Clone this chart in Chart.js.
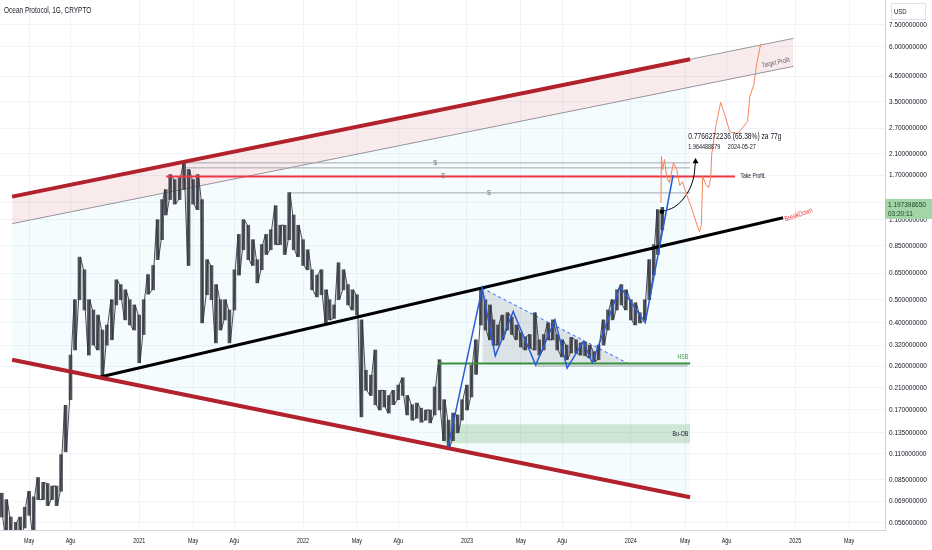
<!DOCTYPE html>
<html>
<head>
<meta charset="utf-8">
<script src="https://cdn.jsdelivr.net/npm/chart.js@4.4.1/dist/chart.umd.min.js"></script>
<style>
html, body { margin: 0; padding: 0; background: #fff; }
#wrap { width: 932px; height: 550px; }
</style>
</head>
<body>
<div id="wrap"><canvas id="chart"></canvas></div>
<script>
// candles, sampled every ~10 days (high / low range)
const dates = [
  '2020-03-01','2020-03-11','2020-03-21','2020-04-01','2020-04-11','2020-04-21',
  '2020-05-01','2020-05-11','2020-05-21','2020-06-01','2020-06-11','2020-06-21',
  '2020-07-01','2020-07-11','2020-07-21','2020-08-01','2020-08-11','2020-08-21',
  '2020-09-01','2020-09-11','2020-09-21','2020-10-01','2020-10-11','2020-10-21',
  '2020-11-01','2020-11-11','2020-11-21','2020-12-01','2020-12-11','2020-12-21',
  '2021-01-01','2021-01-11','2021-01-21','2021-02-01','2021-02-11','2021-02-21',
  '2021-03-01','2021-03-11','2021-03-21','2021-04-01','2021-04-11','2021-04-21',
  '2021-05-01','2021-05-11','2021-05-21','2021-06-01','2021-06-11','2021-06-21',
  '2021-07-01','2021-07-11','2021-07-21','2021-08-01','2021-08-11','2021-08-21',
  '2021-09-01','2021-09-11','2021-09-21','2021-10-01','2021-10-11','2021-10-21',
  '2021-11-01','2021-11-11','2021-11-21','2021-12-01','2021-12-11','2021-12-21',
  '2022-01-01','2022-01-11','2022-01-21','2022-02-01','2022-02-11','2022-02-21',
  '2022-03-01','2022-03-11','2022-03-21','2022-04-01','2022-04-11','2022-04-21',
  '2022-05-01','2022-05-11','2022-05-21','2022-06-01','2022-06-11','2022-06-21',
  '2022-07-01','2022-07-11','2022-07-21','2022-08-01','2022-08-11','2022-08-21',
  '2022-09-01','2022-09-11','2022-09-21','2022-10-01','2022-10-11','2022-10-21',
  '2022-11-01','2022-11-11','2022-11-21','2022-12-01','2022-12-11','2022-12-21',
  '2023-01-01','2023-01-11','2023-01-21','2023-02-01','2023-02-11','2023-02-21',
  '2023-03-01','2023-03-11','2023-03-21','2023-04-01','2023-04-11','2023-04-21',
  '2023-05-01','2023-05-11','2023-05-21','2023-06-01','2023-06-11','2023-06-21',
  '2023-07-01','2023-07-11','2023-07-21','2023-08-01','2023-08-11','2023-08-21',
  '2023-09-01','2023-09-11','2023-09-21','2023-10-01','2023-10-11','2023-10-21',
  '2023-11-01','2023-11-11','2023-11-21','2023-12-01','2023-12-11','2023-12-21',
  '2024-01-01','2024-01-11','2024-01-21','2024-02-01','2024-02-11','2024-02-21',
  '2024-03-01','2024-03-11'
];
const highs = [
  0.0746, 0.070, 0.059, 0.056, 0.059, 0.065,
  0.076, 0.072, 0.087, 0.083, 0.082, 0.080,
  0.080, 0.109, 0.177, 0.29, 0.50, 0.76,
  0.671, 0.50, 0.452, 0.43, 0.371, 0.39,
  0.50, 0.608, 0.58, 0.551, 0.50, 0.475,
  0.43, 0.50, 0.64, 0.70, 1.098, 1.338,
  1.476, 1.71, 1.63, 1.66, 1.925, 1.80,
  1.63, 1.71, 1.338, 0.741, 0.70, 0.58,
  0.50, 0.50, 0.452, 0.671, 0.95, 1.098,
  1.04, 0.902, 0.741, 0.86, 0.95, 0.995,
  1.26, 1.04, 1.04, 1.433, 1.15, 1.04,
  0.902, 0.817, 0.671, 0.637, 0.671, 0.551,
  0.50, 0.475, 0.719, 0.671, 0.58, 0.551,
  0.525, 0.41, 0.25, 0.238, 0.305, 0.205,
  0.205, 0.195, 0.205, 0.216, 0.232, 0.195,
  0.178, 0.181, 0.172, 0.169, 0.169, 0.212,
  0.277, 0.187, 0.153, 0.164, 0.161, 0.187,
  0.216, 0.263, 0.337, 0.56, 0.50, 0.475,
  0.41, 0.39, 0.43, 0.44, 0.422, 0.39,
  0.361, 0.347, 0.355, 0.44, 0.337, 0.355,
  0.398, 0.41, 0.355, 0.337, 0.32, 0.345,
  0.337, 0.327, 0.33, 0.32, 0.30, 0.32,
  0.41, 0.452, 0.50, 0.551, 0.58, 0.551,
  0.50, 0.485, 0.44, 0.50, 0.741, 0.86,
  1.212, 1.24
];
const lows = [
  0.059, 0.048, 0.045, 0.045, 0.049, 0.053,
  0.060, 0.048, 0.070, 0.070, 0.066, 0.070,
  0.066, 0.076, 0.112, 0.187, 0.305, 0.50,
  0.452, 0.29, 0.32, 0.305, 0.234, 0.32,
  0.337, 0.475, 0.50, 0.41, 0.39, 0.371,
  0.269, 0.355, 0.528, 0.551, 0.741, 0.902,
  1.15, 1.338, 1.28, 1.338, 1.476, 0.70,
  1.28, 1.212, 0.398, 0.525, 0.50, 0.327,
  0.371, 0.41, 0.327, 0.452, 0.637, 0.817,
  0.741, 0.70, 0.59, 0.671, 0.78, 0.817,
  0.86, 0.86, 0.78, 0.902, 0.817, 0.763,
  0.70, 0.671, 0.551, 0.514, 0.525, 0.398,
  0.41, 0.416, 0.50, 0.551, 0.475, 0.452,
  0.43, 0.158, 0.205, 0.195, 0.178, 0.169,
  0.174, 0.164, 0.178, 0.187, 0.195, 0.161,
  0.153, 0.156, 0.150, 0.153, 0.149, 0.161,
  0.169, 0.125, 0.117, 0.125, 0.135, 0.153,
  0.169, 0.192, 0.24, 0.39, 0.371, 0.337,
  0.32, 0.32, 0.337, 0.371, 0.355, 0.337,
  0.314, 0.305, 0.31, 0.305, 0.29, 0.305,
  0.337, 0.337, 0.305, 0.285, 0.277, 0.296,
  0.296, 0.29, 0.288, 0.282, 0.272, 0.277,
  0.32, 0.371, 0.41, 0.452, 0.475, 0.452,
  0.41, 0.39, 0.398, 0.41, 0.50, 0.637,
  0.78, 0.995
];

const yTicks = [7.5, 6.0, 4.5, 3.5, 2.7, 2.1, 1.7, 1.3, 1.1, 0.85, 0.65, 0.5, 0.4, 0.32, 0.26, 0.21, 0.17, 0.135, 0.11, 0.085, 0.069, 0.056];
const xTickDates = ['2020-05-01','2020-08-01','2021-01-01','2021-05-01','2021-08-01','2022-01-01','2022-05-01','2022-08-01',
  '2023-01-01','2023-05-01','2023-08-01','2024-01-01','2024-05-01','2024-08-01','2025-01-01','2025-05-01'];
const xTickLabels = ['May','Ağu','2021','May','Ağu','2022','May','Ağu','2023','May','Ağu','2024','May','Ağu','2025','May'];

const lastPrice = 1.197398650;
const lastTime = '03:20:11';

// drawings as [date, price]
const channelTop = [['2020-03-24', 1.378], ['2024-05-12', 5.318]];
const bandTop = [['2020-03-24', 1.378], ['2024-12-28', 6.53]];
const bandBottom = [['2020-03-24', 1.056], ['2024-12-28', 4.96]];
const cyanTop = [['2020-03-24', 1.056], ['2024-05-12', 4.045]];
const channelBottom = [['2020-03-24', 0.277], ['2024-05-12', 0.0717]];
const trendLine = [['2020-10-06', 0.234], ['2024-12-05', 1.12]];
const takeProfit = [['2021-03-02', 1.68], ['2024-08-20', 1.68]];
const rangeLine1 = [['2021-04-09', 1.92], ['2024-05-12', 1.92]];
const rangeLine2 = [['2021-04-16', 1.828], ['2024-05-12', 1.828]];
const rangeLine3 = [['2021-12-01', 1.429], ['2024-05-12', 1.429]];
const hsbLine = [['2022-10-29', 0.267], ['2024-05-12', 0.267]];
const baseLine = [['2023-06-03', 0.2606], ['2024-05-06', 0.2606]];
const buOBTop = [['2022-11-09', 0.147], ['2024-05-12', 0.147]];
const buOBBottom = 0.122;
const triangleTop = [['2023-02-04', 0.56], ['2023-12-26', 0.267]];
const triangleBase = 0.267;
const zigzag = [
  ['2022-11-20', 0.1176], ['2023-02-04', 0.56], ['2023-03-05', 0.288], ['2023-04-14', 0.445],
  ['2023-06-03', 0.263], ['2023-07-16', 0.41], ['2023-08-12', 0.255], ['2023-09-17', 0.331],
  ['2023-10-07', 0.269], ['2023-12-08', 0.569], ['2024-02-02', 0.399], ['2024-04-04', 1.70]
];
const projection = [
  ['2024-03-08', 1.298], ['2024-03-09', 2.043], ['2024-03-12', 1.797], ['2024-03-16', 1.984],
  ['2024-03-21', 1.661], ['2024-03-27', 1.581], ['2024-04-05', 1.926], ['2024-04-12', 1.797],
  ['2024-04-19', 1.535], ['2024-04-25', 1.597], ['2024-05-04', 1.405], ['2024-05-15', 1.236],
  ['2024-05-27', 1.046], ['2024-06-02', 0.976], ['2024-06-06', 1.046], ['2024-06-09', 1.678],
  ['2024-06-16', 1.550], ['2024-06-22', 1.505], ['2024-06-27', 1.661], ['2024-06-29', 2.083],
  ['2024-07-08', 2.746], ['2024-07-19', 3.478], ['2024-07-28', 3.090], ['2024-08-08', 2.614],
  ['2024-08-25', 2.55], ['2024-09-17', 2.884], ['2024-09-22', 3.689], ['2024-10-01', 4.153],
  ['2024-10-07', 5.057], ['2024-10-16', 6.159]
];
const arrowPath = [['2024-03-10', 1.188], ['2024-04-08', 1.248], ['2024-05-02', 1.391], ['2024-05-18', 1.613], ['2024-05-24', 1.945]];

const notes = [
  { at: ['2024-09-01', 1.68], text: 'Take Profit', color: '#131722', size: 7, align: 'left', sx: 0.72 },
  { at: ['2024-10-22', 1.68], text: '-', color: '#f23645', size: 8, align: 'left' },
  { at: ['2024-12-09', 1.10], text: 'BreakDown', color: '#f23645', size: 7.5, align: 'left', rot: -0.33, sx: 0.75 },
  { at: ['2024-10-19', 5.0], text: 'Target Profit', color: '#5d606b', size: 7, align: 'left', rot: -0.2, sx: 0.75 },
  { at: ['2024-05-08', 0.284], text: 'HSB', color: '#43a047', size: 7, align: 'right', sx: 0.75 },
  { at: ['2024-05-08', 0.133], text: 'Bu-OB', color: '#131722', size: 7, align: 'right', sx: 0.75 },
  { at: ['2022-10-22', 1.92], text: '$', color: '#787b86', size: 7, align: 'center' },
  { at: ['2022-11-09', 1.68], text: '$', color: '#787b86', size: 7, align: 'center' },
  { at: ['2023-02-19', 1.43], text: '$', color: '#787b86', size: 7, align: 'center' },
  { at: ['2024-05-08', 2.49], text: '0.7766272236 (65.38%) za 77g', color: '#131722', size: 9.5, align: 'left', sx: 0.7 },
  { at: ['2024-05-08', 2.25], text: '1.964488879', color: '#131722', size: 7, align: 'left', sx: 0.78 },
  { at: ['2024-08-04', 2.25], text: '2024-05-27', color: '#131722', size: 7, align: 'left', sx: 0.78 }
];

const FONT = "'Liberation Sans', Arial, sans-serif";
const day = s => Date.parse(s) / 864e5;
const pts = arr => arr.map(p => ({ x: day(p[0]), y: p[1] }));

function lineSet(arr, color, width, extra) {
  return Object.assign({
    type: 'line',
    data: pts(arr),
    borderColor: color,
    borderWidth: width,
    pointRadius: 0,
    fill: false,
    tension: 0
  }, extra || {});
}

// condensed canvas text
function drawText(ctx, s, x, y, o) {
  ctx.save();
  ctx.translate(x, y);
  if (o.rot) ctx.rotate(o.rot);
  ctx.scale(o.sx || 1, 1);
  ctx.font = (o.weight || 'normal') + ' ' + o.size + 'px ' + FONT;
  ctx.fillStyle = o.color || '#131722';
  ctx.textAlign = o.align || 'left';
  ctx.textBaseline = 'middle';
  ctx.fillText(s, 0, 0);
  ctx.restore();
}

// scribble through the high/low of each sample, gives the dense candle look
const scribble = [];
dates.forEach((d, i) => {
  const a = { x: day(d) - 2, y: i % 2 ? lows[i] : highs[i] };
  const b = { x: day(d) + 2, y: i % 2 ? highs[i] : lows[i] };
  scribble.push(a, b);
});

const datasets = [
  lineSet(bandTop, '#9598a1', 1, { fill: { target: 1 }, backgroundColor: 'rgba(190, 30, 45, 0.09)', order: 20 }),
  lineSet(bandBottom, '#9598a1', 1, { order: 20 }),
  lineSet(cyanTop, 'rgba(0,0,0,0)', 0, { fill: { target: 3 }, backgroundColor: 'rgba(0, 188, 212, 0.045)', order: 21 }),
  lineSet(channelBottom, '#b2222c', 4, { order: 2 }),
  lineSet(channelTop, '#b2222c', 4, { order: 2 }),
  lineSet(trendLine, '#000000', 3, { order: 2 }),
  lineSet(buOBTop, 'rgba(0,0,0,0)', 0, { fill: { value: buOBBottom }, backgroundColor: 'rgba(56, 142, 60, 0.2)', order: 15 }),
  lineSet(triangleTop, '#2962ff', 1, { borderDash: [3, 3], fill: { value: triangleBase }, backgroundColor: 'rgba(120, 123, 134, 0.2)', order: 14 }),
  lineSet(rangeLine1, '#a3a6af', 1, { order: 12 }),
  lineSet(rangeLine2, '#a3a6af', 1, { order: 12 }),
  lineSet(rangeLine3, '#a3a6af', 1, { order: 12 }),
  lineSet(baseLine, '#a3a6af', 1, { order: 12 }),
  lineSet(takeProfit, '#f23645', 2, { order: 3 }),
  lineSet(hsbLine, '#388e3c', 2, { order: 3 }),
  {
    type: 'bar',
    data: dates.map((d, i) => ({ x: day(d), y: [lows[i], highs[i]] })),
    backgroundColor: 'rgba(55, 58, 67, 0.85)',
    borderWidth: 0,
    barThickness: 3,
    order: 8
  },
  {
    type: 'line',
    data: scribble,
    borderColor: '#34373f',
    borderWidth: 0.9,
    pointRadius: 0,
    fill: false,
    order: 7
  },
  lineSet(zigzag, '#2a5bd7', 1.5, { order: 1 }),
  lineSet(projection, '#f7835a', 1, { order: 1 }),
  lineSet(arrowPath, '#000000', 1, {
    tension: 0.4,
    pointRadius: [2.2, 0, 0, 0, 3.5],
    pointStyle: ['circle', 'circle', 'circle', 'circle', 'triangle'],
    pointBackgroundColor: '#000000',
    pointBorderWidth: 0,
    order: 1
  })
];

const extras = {
  id: 'extras',
  afterDatasetsDraw(chart) {
    const { ctx, scales: { x, y } } = chart;
    notes.forEach(n => {
      drawText(ctx, n.text, x.getPixelForValue(day(n.at[0])), y.getPixelForValue(n.at[1]), n);
    });
  },
  afterDraw(chart) {
    const { ctx, chartArea, scales: { x, y } } = chart;
    // axis labels
    y.ticks.forEach((t, i) => {
      drawText(ctx, t.value.toFixed(9), chartArea.right + 4, y.getPixelForTick(i), { size: 8, sx: 0.81 });
    });
    x.ticks.forEach((t, i) => {
      drawText(ctx, xTickLabels[i], x.getPixelForTick(i), chartArea.bottom + 11, { size: 7.5, sx: 0.72, align: 'center' });
    });
    // title
    drawText(ctx, 'Ocean Protocol, 1G, CRYPTO', chartArea.left + 4, chartArea.top + 11, { size: 9, sx: 0.72 });
    // currency box
    const ax = chartArea.right;
    ctx.save();
    ctx.fillStyle = '#ffffff';
    ctx.strokeStyle = '#e0e3eb';
    ctx.lineWidth = 1;
    ctx.fillRect(ax + 6.5, 3.5, 34, 16);
    ctx.strokeRect(ax + 6.5, 3.5, 34, 16);
    ctx.restore();
    drawText(ctx, 'USD', ax + 9, 12, { size: 7.5, sx: 0.8 });
    // last price tag
    const py = y.getPixelForValue(lastPrice);
    ctx.save();
    ctx.fillStyle = '#a2d6a8';
    ctx.fillRect(ax, py - 12, chart.width - ax, 20);
    ctx.restore();
    drawText(ctx, lastPrice.toFixed(9), ax + 3, py - 6, { size: 8, sx: 0.81, color: '#1b3d20' });
    drawText(ctx, lastTime, ax + 3, py + 3, { size: 8, sx: 0.81, color: '#1b3d20' });
  }
};

Chart.defaults.font.family = FONT;
Chart.defaults.color = '#131722';

new Chart(document.getElementById('chart'), {
  type: 'bar',
  data: { datasets: datasets },
  options: {
    responsive: true,
    maintainAspectRatio: false,
    animation: false,
    layout: { padding: 0, autoPadding: false },
    plugins: { legend: { display: false }, tooltip: { enabled: false } },
    scales: {
      x: {
        type: 'linear',
        offset: false,
        bounds: 'data',
        min: day('2020-02-26'),
        max: day('2025-07-20'),
        afterBuildTicks: s => { s.ticks = xTickDates.map(d => ({ value: day(d) })); },
        afterFit: s => { s.height = 20; },
        grid: { color: '#f0f3fa', drawTicks: false, offset: false },
        border: { color: '#d1d4dc' },
        ticks: { display: false }
      },
      y: {
        type: 'logarithmic',
        position: 'right',
        bounds: 'data',
        min: 0.05194,
        max: 9.524,
        afterBuildTicks: s => { s.ticks = yTicks.map(v => ({ value: v })); },
        afterFit: s => { s.width = 47; },
        grid: { color: '#f0f3fa', drawTicks: false },
        border: { color: '#d1d4dc' },
        ticks: { display: false }
      }
    }
  },
  plugins: [extras]
});
</script>
</body>
</html>
